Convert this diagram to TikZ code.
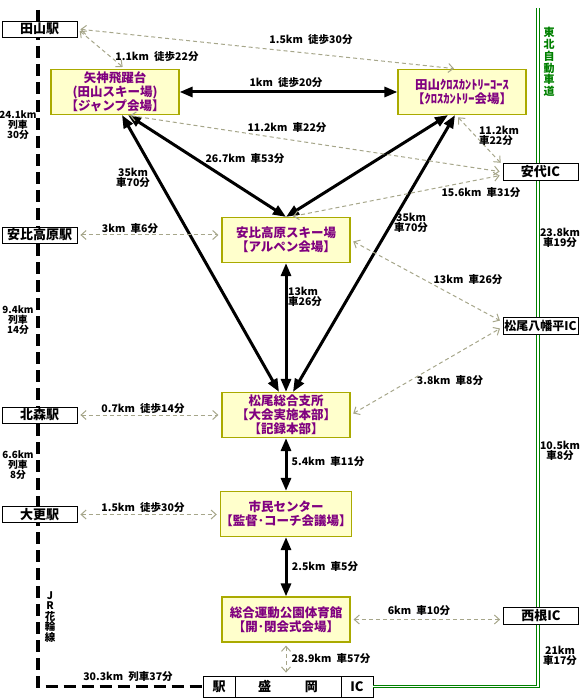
\documentclass[tikz,border=0pt]{standalone}
\usepackage{fontspec}
\setmainfont{Noto Sans CJK JP}
\usepackage{xcolor}
\usetikzlibrary{arrows.meta}

\definecolor{venuefill}{HTML}{FFFFCC}
\definecolor{venueline}{HTML}{AAAA00}
\definecolor{venuetext}{HTML}{800080}
\definecolor{roadline}{HTML}{A6A68A}
\definecolor{hwgreen}{HTML}{008000}

\begin{document}
\begin{tikzpicture}[x=1pt,y=-1pt,
    venue/.style={draw=venueline, line width=1.2pt, fill=venuefill, text=venuetext, minimum width=128pt, minimum height=45pt, inner sep=0pt, align=center, font=\fontsize{12.5}{14}\selectfont\bfseries},
    station/.style={draw, line width=0.8pt, fill=white, minimum width=75pt, minimum height=16pt, inner sep=0pt, font=\fontsize{13}{14}\selectfont\bfseries},
    dist/.style={font=\fontsize{10.5}{10.5}\selectfont\bfseries, align=center, inner sep=0pt},
    raildist/.style={dist, font=\fontsize{9.8}{10}\selectfont\bfseries},
    route/.style={line width=3pt, {Triangle[length=13pt,width=10pt]}-{Triangle[length=13pt,width=10pt]}},
    access/.style={roadline, line width=1pt, dash pattern=on 4pt off 3pt, {Straight Barb[length=5pt,width=9pt]}-{Straight Barb[length=5pt,width=9pt]}, shorten <=3pt, shorten >=3pt}]
            \useasboundingbox (0,0) rectangle (580,700);

            % Railway - JR Hanawa line
            \coordinate (railtop) at (38,10);
            \coordinate (hwtop) at (538,8);

            % Morioka station / IC
            \node[station, minimum width=32pt, minimum height=21pt] (eki) at (219,686.5) {駅};
            \node[station, minimum width=106pt, minimum height=21pt] (morioka) at (288,686.5) {盛\hspace{2.6em}岡};
            \node[station, minimum width=32pt, minimum height=21pt] (ic) at (357,686.5) {IC};

            \draw[line width=3.5pt, dash pattern=on 12pt off 6pt] (railtop) -- (railtop |- eki.west) -- (eki.west);
            \draw[hwgreen, line width=1pt, double=white, double distance=1.2pt] (hwtop) -- (hwtop |- ic.east) -- (ic.east);

            % Stations
            \node[station] (tayamaeki) at (39.5,29) {田山駅};
            \node[station] (appieki) at (39.5,235) {安比高原駅};
            \node[station] (kitamorieki) at (39.5,415) {北森駅};
            \node[station] (obukeeki) at (39.5,514.5) {大更駅};

            % Interchanges
            \node[station, minimum height=17pt] (ashiroic) at (540.5,172) {安代IC};
            \node[station, minimum height=17pt, font=\fontsize{12}{13}\selectfont\bfseries] (hachimantaiic) at (540.5,326) {松尾八幡平IC};
            \node[station, minimum height=17pt] (nishineic) at (541,616) {西根IC};

            % Venues
            \node[venue] (yagami) at (115,92) {矢神飛躍台\\(田山スキー場)\\【ジャンプ会場】};
            \node[venue] (tayamaxc) at (462,92) {田山ｸﾛｽｶﾝﾄﾘｰｺｰｽ\\【ｸﾛｽｶﾝﾄﾘｰ会場】};
            \node[venue] (appi) at (286,240) {安比高原スキー場\\【アルペン会場】};
            \node[venue] (matsuo) at (286,415) {松尾総合支所\\【大会実施本部】\\【記録本部】};
            \node[venue] (shimin) at (286,514) {市民センター\\【監督･コーチ会議場】};
            \node[venue] (sogo) at (286,619.5) {総合運動公園体育館\\【開･閉会式会場】};

            % Line names
            \node[text=hwgreen, font=\fontsize{11}{11.7}\selectfont\bfseries, align=center, inner sep=0pt] (hwname) at (549,62) {東\\北\\自\\動\\車\\道};
            \node[font=\fontsize{10.5}{10.5}\selectfont\bfseries, align=center, inner sep=0pt] (jrname) at (50,617) {J\\R\\花\\輪\\線};

            % Main routes
            \draw[route] (yagami) -- (tayamaxc);
            \draw[route] ([xshift=7pt]yagami.south) -- ([xshift=-7pt]matsuo.north);
            \draw[route] ([xshift=13pt]yagami.south) -- (appi.north);
            \draw[route] ([xshift=-14pt]tayamaxc.south) -- (appi.north);
            \draw[route] ([xshift=-7pt]tayamaxc.south) -- ([xshift=7pt]matsuo.north);
            \draw[route] (appi) -- (matsuo);
            \draw[route] (matsuo) -- (shimin);
            \draw[route] (shimin) -- (sogo);

            % Access routes
            \draw[access] (tayamaeki.east) -- ([xshift=10pt]yagami.north);
            \draw[access] (tayamaeki.east) -- ([xshift=-5pt]tayamaxc.north);
            \draw[access] ([xshift=12pt]yagami.south) -- (ashiroic.west);
            \draw[access] ([xshift=-6pt]tayamaxc.south) -- ([yshift=7pt]ashiroic.west);
            \draw[access] ([xshift=4pt]appi.north) -- ([yshift=-3pt]ashiroic.west);
            \draw[access] (appieki.east) -- (appieki.east -| appi.west);
            \draw[access] (appi.east) -- ([yshift=4pt]hachimantaiic.west);
            \draw[access] (matsuo.east) -- ([yshift=-1pt]hachimantaiic.west);
            \draw[access] (kitamorieki.east) -- (kitamorieki.east -| matsuo.west);
            \draw[access] (obukeeki.east) -- (obukeeki.east -| shimin.west);
            \draw[access] (sogo.east) -- (sogo.east -| nishineic.west);
            \draw[access] (sogo.south) -- (sogo.south |- morioka.north);

            % Distances
            \node[dist] (d1) at (157,57) {1.1km\enspace 徒歩22分};
            \node[dist] (d2) at (311,40) {1.5km\enspace 徒歩30分};
            \node[dist] (d3) at (286,83) {1km\enspace 徒歩20分};
            \node[dist] (d4) at (287,128) {11.2km\enspace 車22分};
            \node[dist] (d5) at (245,159) {26.7km\enspace 車53分};
            \node[dist] (d6) at (133,178) {35km\\車70分};
            \node[dist, align=left] (d7) at (499,136) {11.2km\\車22分};
            \node[dist] (d8) at (481,193) {15.6km\enspace 車31分};
            \node[dist] (d9) at (411,223) {35km\\車70分};
            \node[dist] (d10) at (130,229) {3km\enspace 車6分};
            \node[dist, align=left] (d11) at (305,297) {13km\\車26分};
            \node[dist] (d12) at (468,280) {13km\enspace 車26分};
            \node[dist] (d13) at (450,381) {3.8km\enspace 車8分};
            \node[dist] (d14) at (143,409) {0.7km\enspace 徒歩14分};
            \node[dist] (d15) at (143,508) {1.5km\enspace 徒歩30分};
            \node[dist] (d16) at (328,462) {5.4km\enspace 車11分};
            \node[dist] (d17) at (325,567) {2.5km\enspace 車5分};
            \node[dist] (d18) at (419,611) {6km\enspace 車10分};
            \node[dist] (d19) at (331,659) {28.9km\enspace 車57分};

            % Distances along the lines
            \node[raildist] (r1) at (18,125) {24.1km\\列車\\30分};
            \node[raildist] (r2) at (18,320) {9.4km\\列車\\14分};
            \node[raildist] (r3) at (18,465) {6.6km\\列車\\8分};
            \node[dist] (r4) at (128,677) {30.3km\enspace 列車37分};
            \node[dist] (h1) at (560,238) {23.8km\\車19分};
            \node[dist] (h2) at (560,451) {10.5km\\車8分};
            \node[dist] (h3) at (560,656) {21km\\車17分};
        \end{tikzpicture}
\end{document}
